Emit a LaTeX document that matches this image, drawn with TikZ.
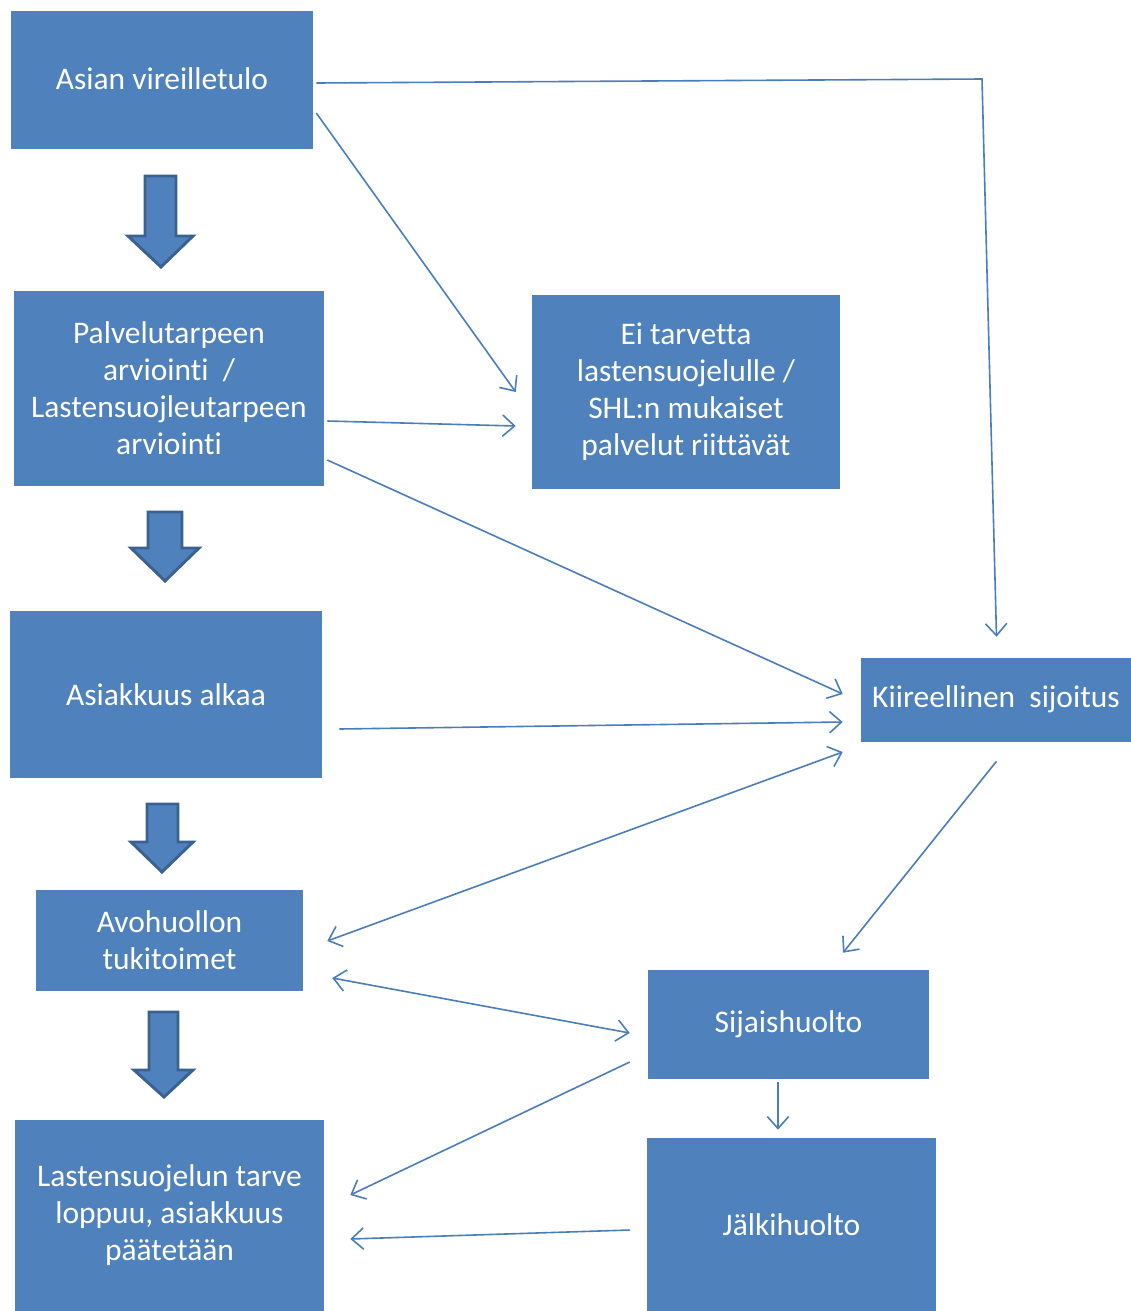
\documentclass[tikz,border=0pt]{standalone}
\usepackage{fontspec}
\setmainfont[Ligatures=NoCommon]{Carlito}
\usetikzlibrary{fit,calc,arrows.meta}
\definecolor{boxblue}{HTML}{4F81BD}
\definecolor{darkblue}{HTML}{3B6193}
\definecolor{lineblue}{HTML}{4A7EBB}
\tikzset{
  box/.style={fill=boxblue, draw=none, inner sep=0pt},
  txt/.style={inner sep=0pt, text=white, align=center, anchor=center,
    font=\fontsize{23.6}{27.75}\selectfont},
  conn/.style={draw=lineblue, line width=1.2pt, -{Straight Barb[length=9pt,width=16pt,line width=1.2pt]}},
  conn2/.style={draw=lineblue, line width=1.2pt, {Straight Barb[length=9pt,width=16pt,line width=1.2pt]}-{Straight Barb[length=9pt,width=16pt,line width=1.2pt]}},
  blockarrow/.style={fill=boxblue, draw=darkblue, line width=2.2pt, line join=miter}
}
\newcommand{\blockarr}[8]{% shaft x1,x2, top, headbase, head x1,x2, tip x, tip y
  \draw[blockarrow] (#1,#3) -- (#2,#3) -- (#2,#4) -- (#6,#4) -- (#7,#8) -- (#5,#4) -- (#1,#4) -- cycle;}
\begin{document}
\begin{tikzpicture}[x=0.75pt,y=-0.75pt]
\useasboundingbox (0,0) rectangle (1131,1311);

% boxes
\node[box, fit={(11,11)(313,149)}] (a) {};
\node[txt] (at) at ($(a.center)+(0,-1)$) {Asian vireilletulo};
\node[box, fit={(14,291)(324,486)}] (p) {};
\node[txt] (pt) at ($(p.center)+(0,0)$) {Palvelutarpeen\\arviointi~~/\\Lastensuojleutarpeen\\arviointi};
\node[box, fit={(532,295)(840,489)}] (e) {};
\node[txt] (et) at ($(e.center)+(0,0)$) {Ei tarvetta\\lastensuojelulle /\\SHL:n mukaiset\\palvelut riittävät};
\node[box, fit={(10,611)(322,778)}] (s) {};
\node[txt] (st) at ($(s.center)+(0,0)$) {Asiakkuus alkaa};
\node[box, fit={(861,658)(1131,742)}] (k) {};
\node[txt] (kt) at ($(k.center)+(0,-1)$) {Kiireellinen~~sijoitus};
\node[box, fit={(36,890)(303,991)}] (v) {};
\node[txt] (vt) at ($(v.center)+(0,0)$) {Avohuollon\\tukitoimet};
\node[box, fit={(648,970)(929,1079)}] (h) {};
\node[txt] (ht) at ($(h.center)+(0,0)$) {Sijaishuolto};
\node[box, fit={(15,1120)(324,1311)}] (l) {};
\node[txt] (lt) at ($(l.center)+(0,0)$) {Lastensuojelun tarve\\loppuu, asiakkuus\\päätetään};
\node[box, fit={(647,1138)(936,1311)}] (j) {};
\node[txt] (jt) at ($(j.center)+(0,0)$) {Jälkihuolto};

% block arrows
\blockarr{145}{176}{176}{236}{128}{193}{161}{267}
\blockarr{148}{182}{512}{548}{131}{199}{165}{581}
\blockarr{147}{178}{804}{842}{131}{193}{162}{872}
\blockarr{149}{178}{1012}{1070}{134}{193}{164}{1097}

% connectors
\coordinate (c1) at (982,79);
\draw[conn] ($(a.east)+(3,3)$) -- (c1) -- ($(k.north)+(0.5,-21)$);
\draw[conn] ($(a.east)+(3,33)$) -- ($(e.west)+(-16,0)$);
\draw[conn] ($(p.east)+(3,32.5)$) -- ($(e.west)+(-16,34)$);
\draw[conn] ($(p.east)+(3,71.5)$) -- ($(k.west)+(-18,-6)$);
\draw[conn] ($(s.east)+(17,34.5)$) -- ($(k.west)+(-18,22)$);
\draw[conn2] ($(v.east)+(24,0.5)$) -- ($(k.west)+(-18,52)$);
\draw[conn] ($(k.south)+(0.5,19)$) -- ($(h.north)+(54.5,-17)$);
\draw[conn2] ($(v.east)+(29,37.5)$) -- ($(h.west)+(-18,8.5)$);
\draw[conn] ($(h.west)+(-18,37.5)$) -- ($(l.east)+(26,-20.5)$);
\draw[conn] ($(h.south)+(-10.5,3)$) -- ($(j.north)+(-13.5,-8)$);
\draw[conn] ($(j.west)+(-17,5.5)$) -- ($(l.east)+(26,23.5)$);
\end{tikzpicture}
\end{document}
